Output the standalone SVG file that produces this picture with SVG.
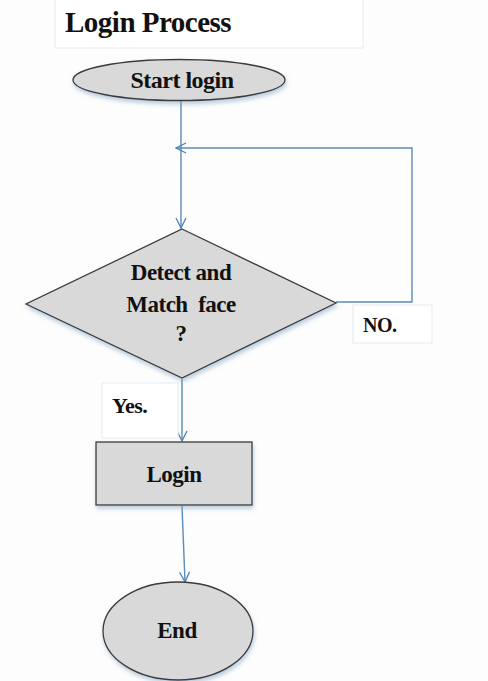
<svg xmlns="http://www.w3.org/2000/svg" width="488" height="681" viewBox="0 0 488 681">
<defs>
<marker id="arr" viewBox="0 0 12 12" refX="11" refY="6" markerWidth="12" markerHeight="12" markerUnits="userSpaceOnUse" orient="auto">
<path d="M1,1 L11,6 L1,11" fill="none" stroke="#4f81b0" stroke-width="1.3"/>
</marker>
<filter id="sh" x="-20%" y="-20%" width="140%" height="150%">
<feDropShadow dx="1" dy="3" stdDeviation="2" flood-color="#7a9cc0" flood-opacity="0.5"/>
</filter>
</defs>
<style>
.shape{fill:#d9d9d9;stroke:#3a3a3a;stroke-width:1.3;filter:url(#sh)}
.lbl{font-family:"Liberation Serif",serif;font-weight:bold;fill:#111;text-anchor:middle;letter-spacing:-0.5px;white-space:pre}
.conn{fill:none;stroke:#5b8bb8;stroke-width:1.4}
.tbox{fill:#fff;stroke:#e6ecef;stroke-width:1}
.free{font-family:"Liberation Serif",serif;font-weight:bold;fill:#111;letter-spacing:-0.5px}
</style>
<rect width="488" height="681" fill="#fdfdfd"/>
<g id="title">
<rect class="tbox" x="55" y="-1" width="308" height="49"/>
<text class="free" x="65" y="32" font-size="29">Login Process</text>
</g>
<g id="connectors">
<line class="conn" x1="181" y1="101" x2="181" y2="228" marker-end="url(#arr)"/>
<polyline class="conn" points="336,302 412,302 412,148 176,148" marker-end="url(#arr)"/>
<line class="conn" x1="182" y1="379" x2="182" y2="441" marker-end="url(#arr)"/>
<line class="conn" x1="182" y1="506" x2="185" y2="582" marker-end="url(#arr)"/>
</g>
<g id="start">
<ellipse class="shape" cx="179" cy="80" rx="106" ry="20.5"/>
<text class="lbl" x="182" y="88" font-size="24">Start login</text>
</g>
<g id="decision">
<polygon class="shape" points="182,229 336,303 182,378 26,304"/>
<text class="lbl" x="181" y="280" font-size="23">Detect and</text>
<text class="lbl" x="181" y="312" font-size="23" xml:space="preserve">Match  face</text>
<text class="lbl" x="181" y="341" font-size="23">?</text>
</g>
<g id="no-label">
<rect class="tbox" x="353" y="305" width="79" height="38"/>
<text class="free" x="363" y="332" font-size="20">NO.</text>
</g>
<g id="yes-label">
<rect class="tbox" x="102" y="383" width="76" height="55"/>
<text class="free" x="112" y="413" font-size="22">Yes.</text>
</g>
<g id="login">
<rect class="shape" x="96" y="442" width="156" height="63"/>
<text class="lbl" x="174" y="482" font-size="23">Login</text>
</g>
<g id="end">
<ellipse class="shape" cx="178" cy="631" rx="75" ry="49"/>
<text class="lbl" x="177" y="638" font-size="23">End</text>
</g>
</svg>
